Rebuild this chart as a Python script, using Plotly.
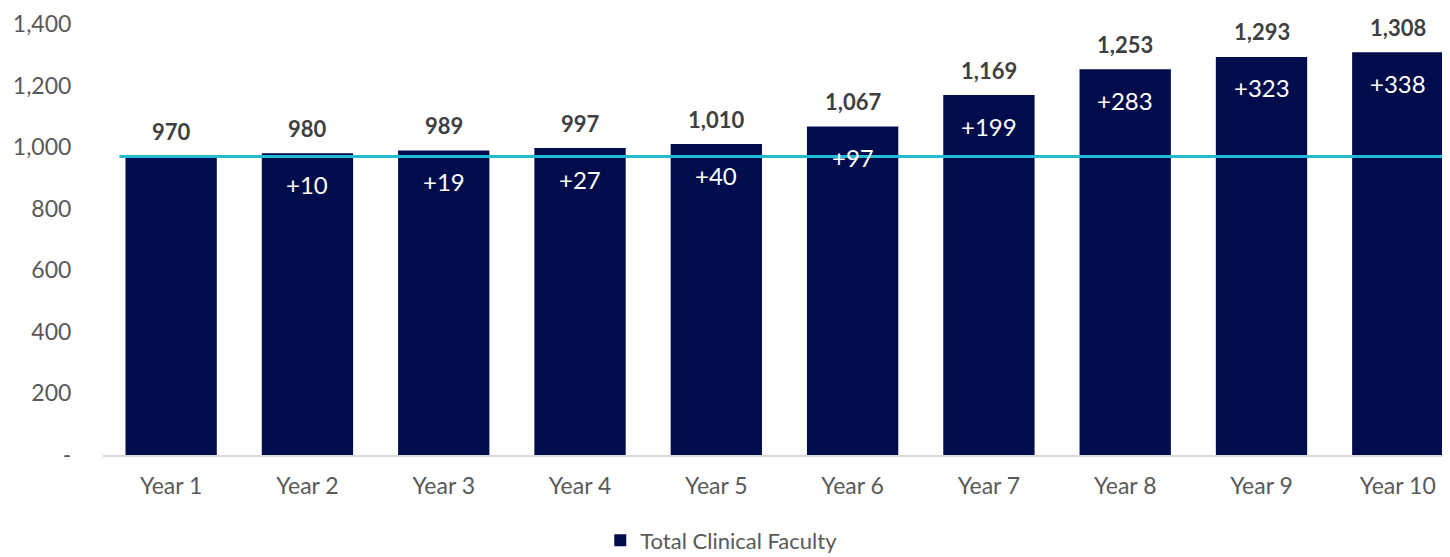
import plotly.graph_objects as go

categories = ["Year 1", "Year 2", "Year 3", "Year 4", "Year 5",
              "Year 6", "Year 7", "Year 8", "Year 9", "Year 10"]
totals = [970, 980, 989, 997, 1010, 1067, 1169, 1253, 1293, 1308]
increments = [None, 10, 19, 27, 40, 97, 199, 283, 323, 338]
baseline_value = 970
y_tickvals = [0, 200, 400, 600, 800, 1000, 1200, 1400]
y_ticktext = ["-", "200", "400", "600", "800", "1,000", "1,200", "1,400"]
series_name = "Total Clinical Faculty"

FONT = "Lato"
NAVY = "#000C4B"
CYAN = "#22BBD3"
GRAY = "#595959"

fig = go.Figure()
fig.add_trace(go.Bar(
    x=categories, y=totals, name=series_name,
    marker=dict(color=NAVY, line=dict(width=0)),
    width=0.67, showlegend=True,
))

fig.add_shape(type="line", xref="x", yref="y",
              x0=-0.38, x1=9.6, y0=baseline_value, y1=baseline_value,
              line=dict(color=CYAN, width=3), layer="above")

for c, t, inc in zip(categories, totals, increments):
    fig.add_annotation(x=c, y=t, text=f"<b>{t:,}</b>", showarrow=False,
                       yshift=25, yanchor="middle",
                       font=dict(family=FONT, size=22, color="#404040"))
    if inc is not None:
        fig.add_annotation(x=c, y=t, text=f"+{inc}", showarrow=False,
                           yshift=-31, yanchor="middle",
                           font=dict(family=FONT, size=24, color="white"))

fig.update_layout(
    width=1442, height=549,
    margin=dict(l=95, r=0, t=16, b=102, autoexpand=False),
    plot_bgcolor="white", paper_bgcolor="white",
    font=dict(family=FONT, size=23, color=GRAY),
    legend=dict(orientation="h", x=0.459, xanchor="center",
                y=-0.198, yanchor="middle",
                font=dict(family=FONT, size=22, color=GRAY)),
)
fig.update_xaxes(range=[-0.5, 9.383], showline=True, linecolor="#D9D9D9",
                 linewidth=1.5, showgrid=False, ticks="outside",
                 tickcolor="rgba(0,0,0,0)", ticklen=10, automargin=False,
                 ticklabeloverflow="allow",
                 tickfont=dict(family=FONT, size=23, color=GRAY))
fig.update_yaxes(range=[0, 1400], tickvals=y_tickvals, ticktext=y_ticktext,
                 showgrid=False, showline=False, zeroline=False,
                 ticks="outside", tickcolor="rgba(0,0,0,0)", ticklen=26,
                 automargin=False, ticklabeloverflow="allow",
                 tickfont=dict(family=FONT, size=23, color=GRAY))

fig.write_html("out.html")
